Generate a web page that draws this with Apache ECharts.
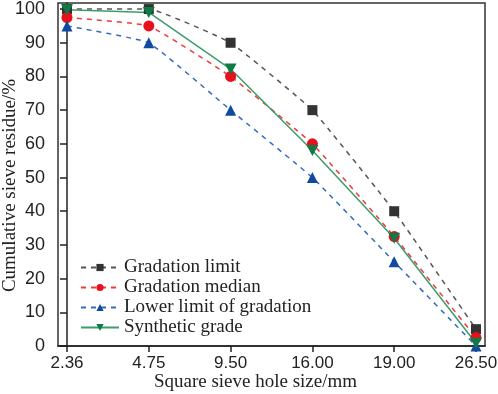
<!DOCTYPE html>
<html>
<head>
<meta charset="utf-8">
<script src="https://cdn.jsdelivr.net/npm/echarts@6/dist/echarts.min.js"></script>
<style>
  html, body { margin: 0; padding: 0; background: #fff; }
  #chart { width: 498px; height: 394px; }
</style>
</head>
<body>
<div id="chart"></div>
<script>
// sieve sizes (x categories)
var sieveSizes = ['2.36', '4.75', '9.50', '16.00', '19.00', '26.50'];
var yTicks = [0, 10, 20, 30, 40, 50, 60, 70, 80, 90, 100];

// cumulative residue, %
var upperLimit = [100, 100, 90, 70, 40, 5];
var medianVals = [97.5, 95, 80, 60, 32.5, 2.5];
var lowerLimit = [95, 90, 70, 50, 25, 0];
var synthetic = [99.8, 99, 82.2, 58, 32, 0.8];

function toPoints(arr) {
	return arr.map(function(v, i) { return [i, v]; });
}

var serif = '"Liberation Serif", "DejaVu Serif", serif';
var sans = '"Liberation Sans", Arial, sans-serif';

var myChart = echarts.init(document.getElementById('chart'));
var option = {
	animation: false,
	grid: {
		left: 58,
		right: 13,
		top: 3,
		bottom: 48,
		outerBoundsMode: 'none',
		containLabel: false,
		show: true,
		borderColor: '#333',
		borderWidth: 1.5
	},
	legend: {
		orient: 'vertical',
		left: 75,
		top: 253,
		itemWidth: 38,
		itemHeight: 9,
		itemGap: 1,
		textStyle: { fontFamily: serif, fontSize: 19, color: '#222' },
		data: ['Gradation limit', 'Gradation median', 'Lower limit of gradation', 'Synthetic grade']
	},
	xAxis: {
		type: 'value',
		min: -0.11,
		max: 5.11,
		name: 'Square sieve hole size/mm',
		nameLocation: 'middle',
		nameGap: 27,
		nameMoveOverlap: false,
		nameTextStyle: { fontFamily: serif, fontSize: 19, color: '#222', padding: [0, 32, 0, 0] },
		splitLine: { show: false },
		axisLine: { lineStyle: { color: '#222', width: 1.5 } },
		axisTick: { show: true, length: 6, customValues: [0, 1, 2, 3, 4, 5], lineStyle: { color: '#222', width: 1.5 } },
		axisLabel: {
			customValues: [0, 1, 2, 3, 4, 5],
			fontFamily: sans, fontSize: 17, color: '#222', margin: 9,
			formatter: function(v) { return sieveSizes[Math.round(v)]; }
		}
	},
	yAxis: {
		type: 'value',
		min: 0,
		max: 101.8,
		name: 'Cumulative sieve residue/%',
		nameLocation: 'middle',
		nameGap: 38,
		nameMoveOverlap: false,
		nameTextStyle: { fontFamily: serif, fontSize: 19, color: '#222', padding: [0, 22, 0, 0] },
		splitLine: { show: false },
		axisLine: { lineStyle: { color: '#222', width: 1.5 } },
		axisTick: { show: true, length: 7, customValues: yTicks, lineStyle: { color: '#222', width: 1.5 } },
		axisLabel: { customValues: yTicks, fontFamily: sans, fontSize: 18, color: '#222', margin: 13 }
	},
	series: [
		{
			name: 'Gradation limit',
			type: 'line',
			smooth: 0.1,
			data: toPoints(upperLimit),
			symbol: 'rect',
			symbolSize: 10,
			itemStyle: { color: '#333' },
			lineStyle: { color: '#555', type: [5, 5], width: 1.5 }
		},
		{
			name: 'Gradation median',
			type: 'line',
			smooth: 0.1,
			data: toPoints(medianVals),
			symbol: 'circle',
			symbolSize: 11,
			itemStyle: { color: '#e8111b' },
			lineStyle: { color: '#ef3a3a', type: [5, 5], width: 1.5 }
		},
		{
			name: 'Lower limit of gradation',
			type: 'line',
			smooth: 0.1,
			data: toPoints(lowerLimit),
			symbol: 'triangle',
			symbolSize: 11,
			itemStyle: { color: '#0f4a9e' },
			lineStyle: { color: '#2f6cc0', type: [5, 5], width: 1.5 }
		},
		{
			name: 'Synthetic grade',
			type: 'line',
			data: toPoints(synthetic),
			symbol: 'path://M0,0 L10,0 L5,9 Z',
			symbolSize: [12, 11],
			itemStyle: { color: '#0f7a45' },
			lineStyle: { color: '#3d9c6c', width: 1.5 }
		}
	]
};
myChart.setOption(option);
</script>
</body>
</html>
